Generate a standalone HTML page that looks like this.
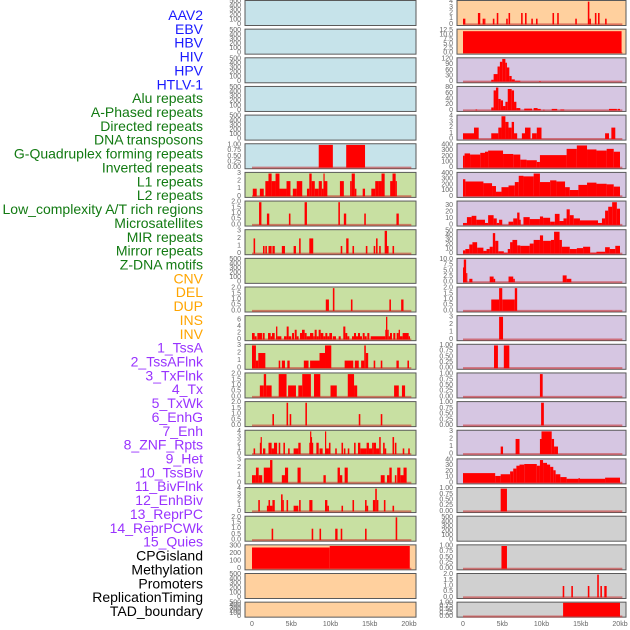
<!DOCTYPE html>
<html><head><meta charset="utf-8"><style>
html,body{margin:0;padding:0;background:#fff;}
svg{display:block;font-family:"Liberation Sans",sans-serif;}
</style></head><body>
<svg id="chart" width="630" height="630" viewBox="0 0 630 630" xmlns="http://www.w3.org/2000/svg"></svg>
<script>
const labels=["AAV2","EBV","HBV","HIV","HPV","HTLV-1","Alu repeats","A-Phased repeats","Directed repeats","DNA transposons","G-Quadruplex forming repeats","Inverted repeats","L1 repeats","L2 repeats","Low_complexity A/T rich regions","Microsatellites","MIR repeats","Mirror repeats","Z-DNA motifs","CNV","DEL","DUP","INS","INV","1_TssA","2_TssAFlnk","3_TxFlnk","4_Tx","5_TxWk","6_EnhG","7_Enh","8_ZNF_Rpts","9_Het","10_TssBiv","11_BivFlnk","12_EnhBiv","13_ReprPC","14_ReprPCWk","15_Quies","CPGisland","Methylation","Promoters","ReplicationTiming","TAD_boundary"];
const labelColors=[];for(let i=0;i<44;i++)labelColors.push(i<6?"#1a1aff":i<19?"#127a12":i<24?"#ffa500":i<39?"#9933ff":"#000");
const xTicks=[0,5,10,15,20];
const xTickLabels=["0","5kb","10kb","15kb","20kb"];
const leftYMax=[500,500,500,500,500,1,3,2,3,500,2,7,3,2,2,4,3,4,2,300,500,500];
const leftStep=[100,100,100,100,100,0.25,1,0.5,1,100,0.5,2,1,0.5,0.5,1,1,1,0.5,100,100,100];
const rightYMax=[4,12.5,120,80,4,400,400,35,50,10,2,3,1,1,1,3,40,1,500,1,2,1];
const rightStep=[1,2.5,30,20,1,100,100,10,10,2.5,0.5,1,0.25,0.25,0.25,1,10,0.25,100,0.25,0.5,0.25];
const leftColors=["#c6e3ea","#c6e3ea","#c6e3ea","#c6e3ea","#c6e3ea","#c6e3ea","#c8e0a2","#c8e0a2","#c8e0a2","#c8e0a2","#c8e0a2","#c8e0a2","#c8e0a2","#c8e0a2","#c8e0a2","#c8e0a2","#c8e0a2","#c8e0a2","#c8e0a2","#ffd09e","#ffd09e","#ffd09e"];
const rightColors=["#ffd09e","#ffd09e","#d6c6e2","#d6c6e2","#d6c6e2","#d6c6e2","#d6c6e2","#d6c6e2","#d6c6e2","#d6c6e2","#d6c6e2","#d6c6e2","#d6c6e2","#d6c6e2","#d6c6e2","#d6c6e2","#d6c6e2","#d0d0d0","#d0d0d0","#d0d0d0","#d0d0d0","#d0d0d0"];
const leftSegs=[[],[],[],[],[],
[[8.5,10.3,1],[12.0,14.4,1]],
[[0.1,0.6,1],[1.0,1.5,1],[1.7,2.1,2],[2.1,2.5,3],[2.5,3.0,2],[3.0,3.5,3],[3.5,4.4,1],[4.4,4.9,2],[5.2,5.7,1],[5.7,6.4,2],[7.0,7.3,1],[7.3,7.6,3],[7.6,8.0,2],[8.0,8.5,1],[8.5,8.9,2],[8.9,9.1,1],[9.1,9.2,3],[9.2,9.6,2],[11.2,11.7,2],[12.5,12.7,2],[12.7,13.1,3],[13.1,13.3,1],[14.1,14.4,1],[15.2,15.7,1],[15.7,16.1,2],[16.1,16.5,2],[16.5,16.9,3],[17.6,17.9,2],[17.9,18.3,3],[18.3,18.4,2]],
[[0.9,1.2,2],[1.9,2.2,1],[4.7,4.9,1],[6.7,7.0,2],[11.0,11.2,2],[11.7,12.0,1],[14.3,14.5,1],[18.4,18.7,1]],
[[0.2,0.4,2],[1.4,1.6,1],[1.7,1.9,1],[2.1,2.5,1],[2.6,2.9,1],[3.8,4.2,1],[5.3,5.6,1],[6.0,6.2,2],[7.3,7.8,2],[11.3,11.5,1],[12.0,12.3,2],[12.8,13.0,1],[14.5,14.7,1],[15.5,15.7,1],[15.8,16.0,2],[16.2,16.4,1],[16.9,17.2,3],[17.2,17.4,1],[17.9,18.1,1]],
[],
[[9.4,9.8,1],[10.3,10.5,2],[12.6,12.8,1],[17.5,17.7,1],[19.0,19.3,1]],
[[0,0.34,2],[0.34,0.59,1],[0.68,1.27,2],[1.36,1.61,2],[2.04,2.38,2],[2.38,2.55,1],[2.55,2.89,2],[3.06,3.23,4],[3.23,3.74,1],[4.08,4.42,1],[4.42,4.67,4],[4.67,5.01,1],[5.1,5.35,2],[5.44,5.69,3],[5.69,5.94,1],[6.11,6.37,2],[6.37,6.71,3],[6.71,6.96,2],[6.96,7.39,1],[7.39,7.81,2],[7.81,7.98,1],[7.98,8.24,3],[8.24,8.49,1],[8.49,8.75,3],[8.75,9.09,2],[9.09,9.34,1],[9.34,9.6,2],[9.6,9.85,1],[9.85,10.19,2],[10.28,10.7,1],[11.04,11.3,1],[11.63,11.89,4],[11.89,12.14,2],[12.14,12.4,1],[12.74,12.99,1],[12.99,13.25,2],[13.25,13.5,1],[13.5,13.76,2],[13.76,14.01,1],[14.1,14.35,2],[14.35,14.61,1],[14.69,14.95,2],[15.12,16.98,1],[16.98,17.07,3],[17.07,17.24,7],[17.24,17.41,3],[17.41,17.58,1],[17.58,17.83,2],[18.0,18.26,2],[18.43,18.68,2],[18.68,18.85,3],[18.85,19.19,1],[19.19,19.96,2],[19.96,20.13,1]],
[[0,0.5,3],[0.5,0.8,1],[0.8,1.7,2],[3.4,3.6,1],[3.8,4.2,1],[4.5,4.8,1],[6.6,7.2,1],[7.4,8.6,1],[8.6,9.3,2],[9.3,10.1,3],[11.8,12.9,1],[13.1,13.6,1],[13.9,14.3,1],[14.3,14.5,3],[14.5,14.8,2],[15.5,15.7,1],[16.4,16.6,1],[18.4,18.7,1],[19.8,20.0,1]],
[[1.0,1.5,1],[1.5,1.8,2],[1.8,2.5,1],[3.4,4.4,2],[4.6,5.6,1],[5.9,6.4,1],[6.4,7.5,2],[7.9,8.7,2],[10.0,10.8,1],[12.2,13.0,2],[13.0,13.4,1],[18.1,18.7,1],[19.1,19.5,1]],
[[2.6,2.8,1],[4.4,4.6,2],[4.8,5.0,1],[6.8,7.0,2],[13.6,13.8,1],[16.4,16.6,1]],
[[0.2,0.4,1],[1.0,1.1,2],[1.1,1.2,3],[1.4,1.7,1],[2.1,2.5,2],[2.5,2.8,1],[2.8,3.2,2],[3.4,3.6,2],[4.0,4.2,2],[4.6,4.8,1],[5.3,5.9,1],[5.9,6.2,2],[7.3,7.4,2],[7.4,7.5,4],[7.5,7.6,3],[7.6,7.8,2],[8.2,8.5,2],[8.6,9.0,1],[9.3,9.4,4],[9.4,9.8,1],[9.8,10.0,2],[10.6,10.8,1],[11.4,11.6,2],[11.7,11.9,1],[12.2,12.4,1],[13.0,13.2,2],[13.5,13.8,2],[13.8,14.6,1],[14.6,14.9,2],[14.9,15.3,1],[15.3,15.5,2],[15.5,15.8,2],[15.8,16.2,1],[16.2,16.4,3],[16.7,16.9,2],[16.9,17.1,1],[17.9,18.1,3],[18.2,18.4,2],[19.2,19.4,1],[19.9,20.1,1]],
[[0,0.5,1],[0.5,0.85,2],[0.85,1.3,1],[1.5,2.3,2],[2.3,2.6,3],[3.8,4.2,1],[4.2,4.6,2],[5.8,6.2,2],[9.1,9.4,1],[10.9,11.2,2],[11.2,11.5,1],[11.8,12.2,2],[16.4,16.9,1],[17.2,17.5,1],[17.5,17.8,2],[18.2,18.4,1],[18.5,18.9,2],[18.9,19.3,1],[19.3,19.7,2]],
[[0.8,1.0,2],[1.9,2.6,1],[2.1,2.3,2],[2.6,2.9,2],[3.7,3.9,3],[3.9,4.0,2],[4.4,4.6,2],[5.3,5.9,1],[6.0,6.2,2],[7.3,7.7,2],[9.3,9.6,2],[9.6,9.8,1],[11.4,11.6,1],[12.8,13.0,2],[14.4,14.6,2],[14.6,14.8,1],[15.4,15.7,2],[15.7,15.9,4],[15.9,16.1,2],[16.8,17.0,2],[17.9,18.1,1]],
[[2.5,2.7,1],[7.6,7.8,1],[8.6,8.8,1],[10.6,10.9,1],[11.3,11.5,1],[14.4,14.6,1],[18.3,18.5,2]],
[[0,9.9,280],[9.9,20.1,300]],
[],[]];
const rightSegs=[
[[0,0.3,1],[1.9,2.1,2],[2.0,2.2,2],[2.5,2.7,1],[2.7,2.8,1],[3.8,4.0,1],[4.3,4.5,2],[5.5,5.7,1],[5.8,6.0,2],[7.4,7.6,2],[7.9,8.1,2],[8.7,8.9,1],[9.3,9.5,1],[11.4,11.6,2],[12.0,12.2,2],[14.3,14.5,1],[15.9,16.1,4],[16.1,16.3,1],[16.8,17.0,2],[17.2,17.4,2],[18.1,18.3,1]],
[[0,20.2,12]],
[[3.6,3.9,10],[3.9,4.4,40],[4.4,4.7,80],[4.7,5.0,105],[5.0,5.4,120],[5.4,5.6,100],[5.6,5.9,75],[5.9,6.2,30],[6.2,6.6,12],[6.6,7.3,5],[9.7,9.9,3]],
[[1.6,1.8,3],[3.6,3.9,10],[3.9,4.2,70],[4.2,4.5,80],[4.5,4.8,40],[4.8,5.1,35],[5.1,5.4,15],[5.4,5.7,30],[5.7,6.2,75],[6.2,6.5,70],[6.5,6.8,30],[6.8,7.3,8],[7.8,8.8,6],[9.0,9.5,8],[9.5,9.9,5],[10.2,10.4,2],[11.3,12.0,5],[12.4,12.9,3],[18.6,19.6,5],[19.7,20.0,5]],
[[0,1.4,1],[1.4,2.0,2],[3.6,4.5,1],[4.5,4.9,2],[4.9,5.4,4],[5.4,5.8,3],[5.8,6.2,2],[6.2,6.5,3],[6.5,6.9,1],[7.5,7.9,1],[7.9,8.6,2],[8.8,9.4,1],[9.4,10.0,2],[18.1,18.6,1],[18.9,19.4,2]],
[[0,0.2,210],[0.2,0.9,250],[0.9,2.2,230],[2.2,2.8,260],[2.8,3.2,280],[3.2,5.1,300],[5.1,6.4,240],[6.4,7.3,230],[7.3,8.1,140],[8.1,9.4,130],[9.4,9.8,100],[9.8,13.2,220],[13.2,14.5,330],[14.5,15.8,390],[15.8,17.0,320],[17.0,18.3,300],[18.3,19.2,330],[19.2,20.0,280]],
[[0,0.3,300],[0.3,2.6,260],[2.6,3.7,230],[3.7,4.2,180],[4.2,4.9,80],[4.9,5.8,160],[5.8,6.6,190],[6.6,7.1,250],[7.1,7.7,360],[7.7,9.0,350],[9.0,9.8,400],[9.8,11.1,250],[11.1,11.9,280],[11.9,13.0,260],[13.0,13.6,160],[13.6,14.7,110],[14.7,15.8,200],[15.8,17.0,240],[17.0,18.3,220],[18.3,19.2,210],[19.2,20.0,170]],
[[0,0.5,3],[0.5,1.1,12],[1.1,1.7,14],[1.7,2.8,8],[2.8,3.2,3],[3.2,3.9,15],[3.9,4.3,10],[4.3,4.6,3],[4.6,5.0,8],[5.8,6.4,5],[6.4,6.9,10],[6.9,7.2,19],[7.2,7.3,8],[7.7,8.5,12],[8.5,9.8,9],[9.8,10.2,13],[10.2,11.1,11],[11.1,11.7,5],[11.7,12.3,17],[12.3,12.8,6],[12.8,13.2,10],[13.2,13.6,24],[13.6,14.1,15],[14.1,14.9,10],[14.9,17.2,7],[17.2,17.7,3],[17.7,18.1,10],[18.1,18.5,22],[18.5,19.0,28],[19.0,19.6,35],[19.6,20.0,25]],
[[0,0.3,7],[0.3,0.8,10],[0.8,1.2,20],[1.2,1.8,25],[1.8,2.6,13],[2.6,3.0,6],[3.0,3.4,10],[3.4,3.8,15],[3.8,4.1,45],[4.1,4.5,28],[4.5,5.2,5],[5.2,5.7,2],[5.7,6.0,10],[6.0,6.3,25],[6.3,6.9,30],[6.9,7.3,18],[7.3,8.5,17],[8.5,9.0,22],[9.0,9.8,30],[9.8,10.2,40],[10.2,11.2,28],[11.2,11.6,30],[11.6,12.3,48],[12.3,12.6,30],[12.6,13.6,15],[13.6,14.5,10],[14.5,15.3,12],[15.3,16.2,15],[16.2,17.0,2],[17.0,18.1,4],[18.1,18.7,14],[18.7,19.4,10],[19.4,20.0,17]],
[[0,0.1,6.5],[0.1,0.4,10],[0.4,0.5,4],[0.8,1.2,1.5],[3.4,3.9,2.5],[3.9,4.1,1.5],[5.8,6.4,2.5],[6.4,6.6,1.5],[12.7,13.2,3],[13.2,13.8,1.5]],
[[3.6,4.6,1],[4.6,5.0,2],[5.0,6.6,1],[6.6,6.9,2]],
[[4.6,5.1,3]],
[[3.95,4.45,1],[5.2,5.9,1]],
[[9.8,10.15,1]],
[[9.95,10.3,1]],
[[4.8,5.1,1],[6.7,7.2,2],[9.8,10.0,2],[10.0,11.3,3],[11.3,11.6,2],[11.6,12.1,1]],
[[0,4.1,17],[4.1,4.8,12],[4.8,6.0,15],[6.0,6.4,20],[6.4,6.8,25],[6.8,7.2,30],[7.2,7.8,32],[7.8,9.4,33],[9.4,9.8,30],[9.8,10.2,40],[10.2,10.7,35],[10.7,11.1,32],[11.1,11.5,28],[11.5,11.8,22],[11.8,12.4,15],[12.4,13.2,10],[13.2,14.7,7],[14.7,14.9,8],[14.9,18.1,7],[18.1,20.0,9]],
[[4.8,5.6,1]],
[],
[[4.9,5.6,1]],
[[12.7,12.9,1],[13.8,14.0,1],[15.9,16.1,1],[17.1,17.3,2],[17.5,17.7,1],[18.0,18.3,1]],
[[12.75,20.0,1]]];

const NS="http://www.w3.org/2000/svg";
const svg=document.getElementById('chart');
function mk(tag,attrs,parent){const e=document.createElementNS(NS,tag);for(const k in attrs)e.setAttribute(k,attrs[k]);(parent||svg).appendChild(e);return e;}

labels.forEach((t,i)=>{
  const e=mk('text',{x:203,y:15+i*13.86,'text-anchor':'end','dominant-baseline':'central','font-size':'14',fill:labelColors[i]});
  e.textContent=t;
  
  
});

function fmt(v,step){const d=step<0.5?2:(step%1!==0?1:0);return v.toFixed(d);}

function drawPanel(col,i,ymax,step,segs,color){
  const px=col===0?245:457, pw=col===0?171:169, x0=col===0?252:463, kbw=7.85;
  const top=0.5+i*28.65, h=i===21?15:25;
  const g=mk('g',{});
  
  
  const bg=mk('rect',{x:px,y:top,width:pw,height:h,fill:color,stroke:'#5a5a5a','stroke-width':1},g);
  
  
  const xs=kb=>x0+kb*kbw;
  const ys=v=>top+h-(v+0.05*ymax)/(1.1*ymax)*h;
  for(let v=0;v<=ymax+1e-9;v+=step){
    const t=mk('text',{x:px-4,y:ys(v),'text-anchor':'end','dominant-baseline':'central','font-size':'7',fill:'#666'},g);
    t.textContent=fmt(v,step);
    
    
  }
  if(segs.length){
    const bl=mk('line',{x1:xs(0),x2:xs(20.3),y1:ys(0),y2:ys(0),stroke:'rgba(200,40,40,0.55)','stroke-width':2},g);
    
    
  }
  segs.forEach(s=>{
    const r=mk('rect',{x:xs(s[0]),y:ys(s[2]),width:Math.max(1.2,xs(s[1])-xs(s[0])),height:ys(0)-ys(s[2]),fill:'#ff0000'},g);
    
    
  });
}
for(let i=0;i<22;i++){
  drawPanel(0,i,leftYMax[i],leftStep[i],leftSegs[i],leftColors[i]);
  drawPanel(1,i,rightYMax[i],rightStep[i],rightSegs[i],rightColors[i]);
}
[252,463].forEach(x0=>{
  xTicks.forEach((k,j)=>{
    const t=mk('text',{x:x0+k*7.85,y:626,'text-anchor':'middle','font-size':'7',fill:'#666'});
    t.textContent=xTickLabels[j];
    
    
  });
});
</script>
</body></html>
